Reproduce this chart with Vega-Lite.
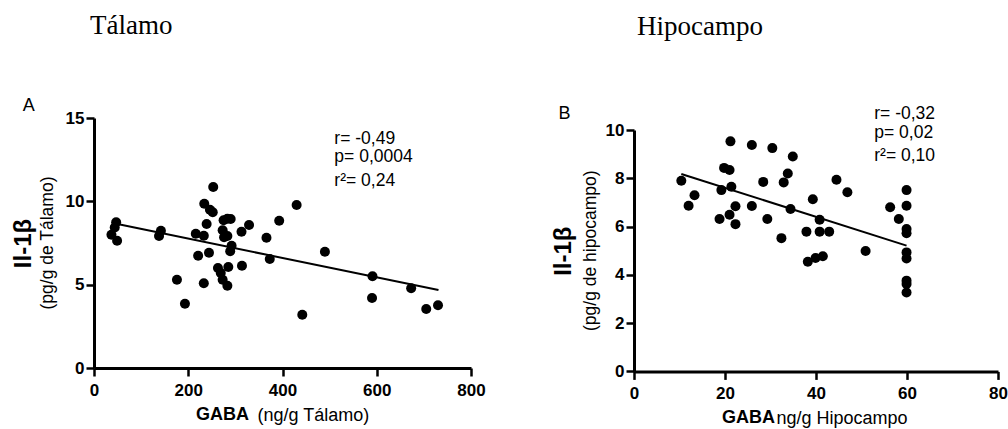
{
  "$schema": "https://vega.github.io/schema/vega-lite/v6.json",
  "background": "white",
  "padding": {"left": 11, "top": 11, "right": 0, "bottom": 0},
  "spacing": 65,
  "config": {
    "view": {"stroke": null},
    "font": "Liberation Sans",
    "axis": {
      "grid": false,
      "domainColor": "black",
      "domainWidth": 3,
      "tickColor": "black",
      "tickWidth": 2.5,
      "tickSize": 8,
      "labelFont": "Liberation Sans",
      "labelFontWeight": "bold",
      "labelFontSize": 17,
      "labelColor": "black",
      "labelFlush": false,
      "labelOverlap": false,
      "titleColor": "black",
      "titleFont": "Liberation Sans",
      "titleFontWeight": "bold"
    },
    "axisX": {"labelPadding": 6, "titlePadding": 7, "titleFontSize": 18},
    "axisY": {"labelPadding": 2, "titlePadding": 30, "titleFontSize": 24},
    "title": {"font": "Liberation Serif", "fontSize": 27, "fontWeight": "normal", "anchor": "start", "frame": "group", "color": "black"},
    "text": {"font": "Liberation Sans", "color": "black"}
  },
  "datasets": {
    "thal": [
      {"gaba": 37, "il": 8.0}, {"gaba": 44, "il": 8.43}, {"gaba": 47, "il": 8.74}, {"gaba": 49, "il": 7.64},
      {"gaba": 138, "il": 7.92}, {"gaba": 142, "il": 8.24}, {"gaba": 176, "il": 5.3}, {"gaba": 193, "il": 3.86},
      {"gaba": 216, "il": 8.06}, {"gaba": 221, "il": 6.74}, {"gaba": 233, "il": 7.94}, {"gaba": 233, "il": 5.08},
      {"gaba": 234, "il": 9.86}, {"gaba": 239, "il": 8.64}, {"gaba": 244, "il": 6.92}, {"gaba": 246, "il": 9.5},
      {"gaba": 252, "il": 9.34}, {"gaba": 253, "il": 10.86}, {"gaba": 263, "il": 6.0}, {"gaba": 269, "il": 5.7},
      {"gaba": 273, "il": 5.3}, {"gaba": 283, "il": 4.94}, {"gaba": 273, "il": 8.26}, {"gaba": 276, "il": 7.84},
      {"gaba": 275, "il": 8.86}, {"gaba": 283, "il": 8.95}, {"gaba": 290, "il": 8.94}, {"gaba": 283, "il": 7.92},
      {"gaba": 285, "il": 6.06}, {"gaba": 289, "il": 7.0}, {"gaba": 292, "il": 7.34}, {"gaba": 313, "il": 8.18},
      {"gaba": 314, "il": 6.14}, {"gaba": 329, "il": 8.58}, {"gaba": 366, "il": 7.82}, {"gaba": 373, "il": 6.54},
      {"gaba": 393, "il": 8.84}, {"gaba": 430, "il": 9.78}, {"gaba": 442, "il": 3.2}, {"gaba": 490, "il": 6.98},
      {"gaba": 591, "il": 5.5}, {"gaba": 590, "il": 4.2}, {"gaba": 673, "il": 4.78}, {"gaba": 705, "il": 3.54},
      {"gaba": 730, "il": 3.76}
    ],
    "thalfit": [{"gaba": 42, "il": 8.68}, {"gaba": 731, "il": 4.68}],
    "hip": [
      {"gaba": 10.4, "il": 7.9}, {"gaba": 12.0, "il": 6.86}, {"gaba": 13.3, "il": 7.3}, {"gaba": 18.8, "il": 6.31},
      {"gaba": 19.2, "il": 7.51}, {"gaba": 19.8, "il": 8.43}, {"gaba": 21.0, "il": 8.34}, {"gaba": 21.2, "il": 9.53},
      {"gaba": 21.4, "il": 7.65}, {"gaba": 21.0, "il": 6.49}, {"gaba": 22.3, "il": 6.84}, {"gaba": 22.3, "il": 6.1},
      {"gaba": 25.9, "il": 6.85}, {"gaba": 25.9, "il": 9.38}, {"gaba": 28.4, "il": 7.85}, {"gaba": 29.3, "il": 6.31},
      {"gaba": 30.4, "il": 9.25}, {"gaba": 32.4, "il": 5.52}, {"gaba": 32.9, "il": 7.83}, {"gaba": 33.8, "il": 8.2},
      {"gaba": 34.9, "il": 8.9}, {"gaba": 34.4, "il": 6.73}, {"gaba": 37.9, "il": 5.79}, {"gaba": 38.2, "il": 4.54},
      {"gaba": 39.9, "il": 4.7}, {"gaba": 41.5, "il": 4.77}, {"gaba": 39.3, "il": 7.13}, {"gaba": 40.8, "il": 6.28},
      {"gaba": 40.8, "il": 5.79}, {"gaba": 42.9, "il": 5.79}, {"gaba": 44.5, "il": 7.94}, {"gaba": 46.9, "il": 7.42},
      {"gaba": 50.9, "il": 4.99}, {"gaba": 56.3, "il": 6.8}, {"gaba": 58.2, "il": 6.31}, {"gaba": 59.9, "il": 7.51},
      {"gaba": 59.9, "il": 6.86}, {"gaba": 59.9, "il": 5.9}, {"gaba": 59.9, "il": 5.72}, {"gaba": 59.9, "il": 4.93},
      {"gaba": 59.9, "il": 4.68}, {"gaba": 59.9, "il": 3.76}, {"gaba": 59.9, "il": 3.62}, {"gaba": 59.9, "il": 3.27}
    ],
    "hipfit": [{"gaba": 10.4, "il": 8.18}, {"gaba": 59.9, "il": 5.21}]
  },
  "hconcat": [
    {
      "width": 377,
      "height": 250,
      "title": {"text": "Tálamo", "offset": 57, "dx": -4},
      "layer": [
        {
          "data": {"name": "thal"},
          "mark": {"type": "circle", "size": 100, "opacity": 1, "color": "black"},
          "encoding": {
            "x": {"field": "gaba", "type": "quantitative", "scale": {"domain": [0, 800], "nice": false},
                  "axis": {"values": [0, 200, 400, 600, 800], "title": "GABA", "titleX": 128}},
            "y": {"field": "il", "type": "quantitative", "scale": {"domain": [0, 15], "nice": false},
                  "axis": {"values": [0, 5, 10, 15], "title": "Il-1β"}}
          }
        },
        {
          "data": {"name": "thalfit"},
          "mark": {"type": "line", "color": "black", "strokeWidth": 2},
          "encoding": {
            "x": {"field": "gaba", "type": "quantitative"},
            "y": {"field": "il", "type": "quantitative"}
          }
        },
        {
          "data": {"values": [{}]},
          "mark": {"type": "text", "fontSize": 17.5, "align": "left", "baseline": "alphabetic"},
          "encoding": {"x": {"datum": 510}, "y": {"datum": 13.46}, "text": {"value": "r= -0,49"}}
        },
        {
          "data": {"values": [{}]},
          "mark": {"type": "text", "fontSize": 17.5, "align": "left", "baseline": "alphabetic"},
          "encoding": {"x": {"datum": 510}, "y": {"datum": 12.38}, "text": {"value": "p= 0,0004"}}
        },
        {
          "data": {"values": [{}]},
          "mark": {"type": "text", "fontSize": 17.5, "align": "left", "baseline": "alphabetic"},
          "encoding": {"x": {"datum": 510}, "y": {"datum": 10.9}, "text": {"value": "r²= 0,24"}}
        },
        {
          "data": {"values": [{}]},
          "mark": {"type": "text", "fontSize": 18, "align": "left", "baseline": "alphabetic"},
          "encoding": {"x": {"datum": -151}, "y": {"datum": 15.43}, "text": {"value": "A"}}
        },
        {
          "data": {"values": [{}]},
          "mark": {"type": "text", "fontSize": 17.5, "align": "center", "baseline": "middle", "angle": 270},
          "encoding": {"x": {"datum": -98}, "y": {"datum": 7.5}, "text": {"value": "(pg/g de Tálamo)"}}
        },
        {
          "data": {"values": [{}]},
          "mark": {"type": "text", "fontSize": 18, "align": "left", "baseline": "alphabetic"},
          "encoding": {"x": {"datum": 347}, "y": {"datum": -3.16}, "text": {"value": "(ng/g Tálamo)"}}
        }
      ]
    },
    {
      "width": 364,
      "height": 253.4,
      "title": {"text": "Hipocampo", "offset": 64, "dx": 3},
      "layer": [
        {
          "data": {"name": "hip"},
          "mark": {"type": "circle", "size": 100, "opacity": 1, "color": "black"},
          "encoding": {
            "x": {"field": "gaba", "type": "quantitative", "scale": {"domain": [0, 80], "nice": false},
                  "axis": {"values": [0, 20, 40, 60, 80], "title": "GABA", "titleX": 114}},
            "y": {"field": "il", "type": "quantitative", "scale": {"domain": [0, 10], "nice": false, "range": [253.4, 12]},
                  "axis": {"values": [0, 2, 4, 6, 8, 10], "title": "Il-1β"}}
          }
        },
        {
          "data": {"name": "hipfit"},
          "mark": {"type": "line", "color": "black", "strokeWidth": 2},
          "encoding": {
            "x": {"field": "gaba", "type": "quantitative"},
            "y": {"field": "il", "type": "quantitative"}
          }
        },
        {
          "data": {"values": [{}]},
          "mark": {"type": "text", "fontSize": 17.5, "align": "left", "baseline": "alphabetic"},
          "encoding": {"x": {"datum": 52.8}, "y": {"datum": 10.47}, "text": {"value": "r= -0,32"}}
        },
        {
          "data": {"values": [{}]},
          "mark": {"type": "text", "fontSize": 17.5, "align": "left", "baseline": "alphabetic"},
          "encoding": {"x": {"datum": 52.8}, "y": {"datum": 9.68}, "text": {"value": "p= 0,02"}}
        },
        {
          "data": {"values": [{}]},
          "mark": {"type": "text", "fontSize": 17.5, "align": "left", "baseline": "alphabetic"},
          "encoding": {"x": {"datum": 52.8}, "y": {"datum": 8.73}, "text": {"value": "r²= 0,10"}}
        },
        {
          "data": {"values": [{}]},
          "mark": {"type": "text", "fontSize": 18, "align": "left", "baseline": "alphabetic"},
          "encoding": {"x": {"datum": -16.6}, "y": {"datum": 10.47}, "text": {"value": "B"}}
        },
        {
          "data": {"values": [{}]},
          "mark": {"type": "text", "fontSize": 17.5, "align": "center", "baseline": "middle", "angle": 270},
          "encoding": {"x": {"datum": -9.5}, "y": {"datum": 5.0}, "text": {"value": "(pg/g de hipocampo)"}}
        },
        {
          "data": {"values": [{}]},
          "mark": {"type": "text", "fontSize": 18, "align": "left", "baseline": "alphabetic"},
          "encoding": {"x": {"datum": 31.3}, "y": {"datum": -2.17}, "text": {"value": "ng/g Hipocampo"}}
        }
      ]
    }
  ]
}
